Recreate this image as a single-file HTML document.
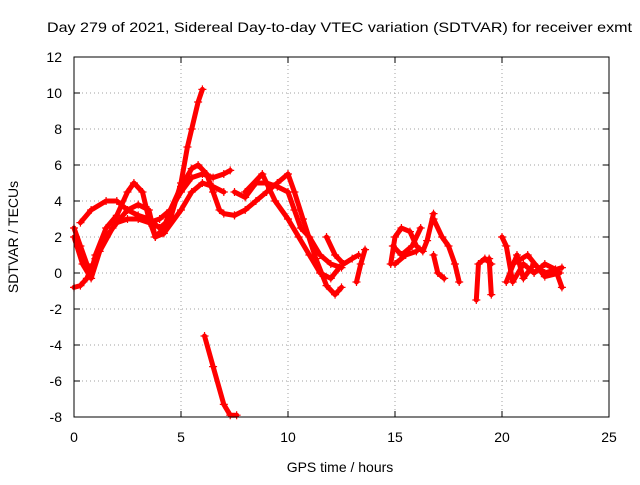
<!DOCTYPE html>
<html><head><meta charset="utf-8"><style>
body{margin:0;background:#fff;}
svg text{font-family:"Liberation Sans",sans-serif;font-size:14px;fill:#000;}
</style></head><body>
<svg id="chart" width="640" height="480">
<text x="47" y="32" textLength="585" lengthAdjust="spacingAndGlyphs">Day 279 of 2021, Sidereal Day-to-day VTEC variation (SDTVAR) for receiver exmt</text>
<g id="grid"></g>
<g id="ticks"></g>
<g id="series"></g>
<rect x="74" y="57" width="535" height="360" fill="none" stroke="#000" stroke-width="1"/>
<text x="340" y="472" text-anchor="middle">GPS time / hours</text>
<text transform="translate(18,237) rotate(-90)" text-anchor="middle">SDTVAR / TECUs</text>
</svg>
<script>
const xTicks=[0,5,10,15,20,25];
const yTicks=[-8,-6,-4,-2,0,2,4,6,8,10,12];
const traces=[
[[0,-0.8],[0.3,-0.7],[0.6,-0.3],[1,0.8],[1.5,2],[2,2.8],[2.5,3],[3,3],[3.5,2.8],[4,3],[4.5,3.5],[5,4.5],[5.5,5.3],[6,5.5],[6.5,5.3],[7,5.5],[7.3,5.7]],
[[0,2.5],[0.3,1.5],[0.6,0.5],[0.8,0],[1,1],[1.5,2.5],[2,3.2],[2.5,4.5],[2.8,5],[3.2,4.5],[3.5,3],[3.8,2],[4.2,2.5],[4.5,3.5],[5,4.8],[5.5,5.8],[5.8,6],[6.2,5.5],[6.5,4.5],[6.8,3.5],[7,3.3],[7.5,3.2]],
[[0.3,2.8],[0.8,3.5],[1.5,4],[2,4],[2.5,3.5],[3,3.2],[3.5,3],[4,2.5],[4.5,3],[5,5],[5.3,7],[5.5,8],[5.8,9.5],[6,10.2]],
[[0,2],[0.4,0.5],[0.8,-0.3],[1.2,1.2],[1.8,2.5],[2.5,3.5],[3,3.8],[3.5,3.5],[3.8,2],[4.2,2.2],[5,3.5],[5.5,4.5],[6,5],[6.5,4.8],[7,4.5]],
[[6.1,-3.5],[6.5,-5.2],[7,-7.3],[7.3,-7.9],[7.6,-7.9]],
[[7.5,4.5],[8,4.2],[8.5,5],[9,5],[9.5,4.8],[10,4.5],[10.3,3.5],[10.6,2.5],[11,2],[11.5,1],[12,0.5],[12.5,0.3]],
[[7.5,3.2],[8,3.5],[8.5,4],[9,4.5],[9.5,5],[10,5.5],[10.3,4.5],[10.7,3],[11.3,0.8],[11.8,-0.7],[12.2,-1.2],[12.5,-0.8]],
[[8,4.5],[8.8,5.5],[9.4,4],[10,3],[10.5,2],[11,1],[11.5,0],[12,-0.3],[12.4,0.3]],
[[11.8,2],[12.2,1],[12.6,0.5],[13,0.8],[13.3,1]],
[[13.2,-0.5],[13.4,0.5],[13.6,1.3]],
[[14.8,0.5],[15,2],[15.3,2.5],[15.7,2.3],[16,1.5],[16.3,1.2],[16.5,1.8],[16.8,3.3]],
[[15,0.5],[15.5,1],[16,1.2]],
[[14.9,1.5],[15.3,1],[15.8,1.5],[16.2,2.5]],
[[16.8,3],[17.2,2],[17.5,1.5],[17.8,0.5],[18,-0.5]],
[[16.8,1],[17,0],[17.3,-0.3]],
[[18.8,-1.5],[18.9,0.5],[19.2,0.8],[19.5,0.5]],
[[19.4,0.8],[19.5,-1.2]],
[[20,2],[20.2,1.5],[20.5,-0.5],[21,0.5],[21.5,0],[22,0.5],[22.5,0.2],[22.8,-0.8]],
[[20.2,-0.5],[20.7,1],[21,-0.3],[21.5,0.5],[22,0],[22.8,0.3]],
[[20.5,0.5],[21.2,1],[22,-0.2],[22.7,0]]
];
const NS='http://www.w3.org/2000/svg';
function xs(t){return 74+t*535/25;}
function ys(v){return 57+(12-v)*18;}
const grid=document.getElementById('grid'),ticks=document.getElementById('ticks'),series=document.getElementById('series');
function mk(tag,attrs,parent){const e=document.createElementNS(NS,tag);for(const k in attrs)e.setAttribute(k,attrs[k]);parent.appendChild(e);return e;}
xTicks.forEach(t=>{
  const x=xs(t);
  if(t>0&&t<25){const l=mk('line',{x1:x,x2:x,y1:57,y2:417,stroke:'#a0a0a0','stroke-dasharray':'1,3'},grid);
  
  }
  mk('line',{x1:x,x2:x,y1:417,y2:411,stroke:'#000'},ticks);
  mk('line',{x1:x,x2:x,y1:57,y2:63,stroke:'#000'},ticks);
  const tx=mk('text',{x:x,y:442,'text-anchor':'middle'},ticks);tx.textContent=t;
  
  
});
yTicks.forEach(v=>{
  const y=ys(v);
  if(v>-8&&v<12){const l=mk('line',{x1:74,x2:609,y1:y,y2:y,stroke:'#a0a0a0','stroke-dasharray':'1,3'},grid);
  
  }
  mk('line',{x1:74,x2:80,y1:y,y2:y,stroke:'#000'},ticks);
  mk('line',{x1:609,x2:603,y1:y,y2:y,stroke:'#000'},ticks);
  const tx=mk('text',{x:62,y:y+5,'text-anchor':'end'},ticks);tx.textContent=v;
  
  
});
traces.forEach((tr,i)=>{
  const pts=tr.map(p=>xs(p[0])+','+ys(p[1])).join(' ');
  const pl=mk('polyline',{points:pts,fill:'none',stroke:'#f00','stroke-width':5,'stroke-linejoin':'round','stroke-linecap':'round'},series);
  
  
  tr.forEach(p=>{const x=xs(p[0]),y=ys(p[1]);
    const m=mk('path',{d:`M${x-4},${y}h8M${x},${y-4}v8`,stroke:'#f00','stroke-width':1.2},series);
    
    
  });
});
</script>
</body></html>
